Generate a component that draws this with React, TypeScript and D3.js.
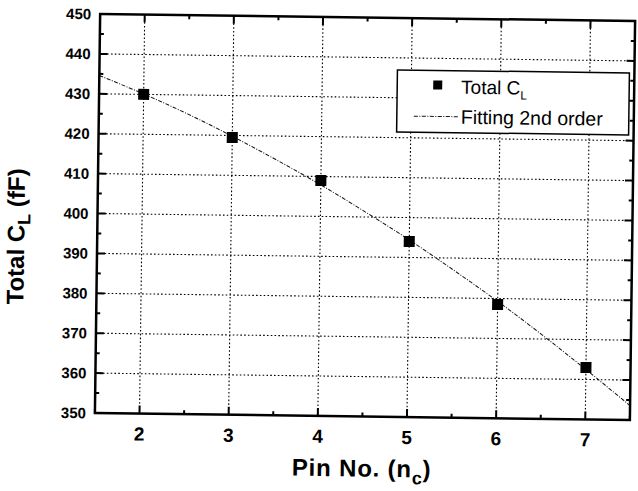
import React from "react";
import * as d3 from "d3";

// measured points
const pinNo = [2, 3, 4, 5, 6, 7];
const totalCL = [430, 419.5, 409, 394, 378.5, 363];

// 2nd order fit curve
const fitX = [1.5, 2, 2.5, 3, 3.5, 4, 4.5, 5, 5.5, 6, 6.5, 7, 7.5];
const fitY = [434.6, 430.1, 425.2, 419.8, 414.0, 407.9, 401.3, 394.4, 387.0, 379.3, 371.1, 362.5, 353.6];

const xTicks = [2, 3, 4, 5, 6, 7];
const yTicks = [350, 360, 370, 380, 390, 400, 410, 420, 430, 440, 450];

const width = 638;
const height = 491;
const margin = { left: 97.5, right: 5.5, top: 17.5, bottom: 74.5 };
const font = "'Liberation Sans', Arial, sans-serif";

const App = () => {
  const innerW = width - margin.left - margin.right;
  const innerH = height - margin.top - margin.bottom;

  const x = d3.scaleLinear().domain([1.5, 7.5]).range([0, innerW]);
  const y = d3.scaleLinear().domain([350, 450]).range([innerH, 0]);

  const xMinor = d3.range(1.5, 7.51, 0.5).filter((v) => !xTicks.includes(v));
  const yMinor = d3.range(355, 450, 10);

  const fitLine = d3
    .line<number>()
    .x((d, i) => x(fitX[i]))
    .y((d) => y(d))
    .curve(d3.curveNatural);

  const major = 8;
  const minor = 4;
  const cx = margin.left + innerW / 2;
  const cy = margin.top + innerH / 2;

  return (
    <svg
      width={width}
      height={height}
      style={{ position: "absolute", left: 0, top: 0, background: "#fff" }}
      fontFamily={font}
    >
      <g transform={`rotate(0.75 ${cx} ${cy})`}>
        <g transform={`translate(${margin.left},${margin.top})`}>
          {/* grid */}
          <g stroke="#000" strokeWidth={1.1} strokeDasharray="1.6,2.2">
            {xTicks.map((t) => (
              <line key={"gx" + t} x1={x(t)} x2={x(t)} y1={0} y2={innerH} />
            ))}
            {yTicks.slice(1, -1).map((t) => (
              <line key={"gy" + t} x1={0} x2={innerW} y1={y(t)} y2={y(t)} />
            ))}
          </g>

          {/* fit curve */}
          <path
            d={fitLine(fitY) || ""}
            fill="none"
            stroke="#111"
            strokeWidth={1}
            strokeDasharray="4,1.5,1,1.5"
          />

          {/* points */}
          {pinNo.map((p, i) => (
            <rect
              key={p}
              x={x(p) - 5.5}
              y={y(totalCL[i]) - 5.5}
              width={11}
              height={11}
              fill="#000"
            />
          ))}

          {/* ticks, inward on all four sides */}
          <g stroke="#000" strokeWidth={2}>
            {xTicks.map((t) => (
              <g key={"tx" + t}>
                <line x1={x(t)} x2={x(t)} y1={innerH} y2={innerH - major} />
                <line x1={x(t)} x2={x(t)} y1={0} y2={major} />
              </g>
            ))}
            {xMinor.map((t) => (
              <g key={"mx" + t}>
                <line x1={x(t)} x2={x(t)} y1={innerH} y2={innerH - minor} />
                <line x1={x(t)} x2={x(t)} y1={0} y2={minor} />
              </g>
            ))}
            {yTicks.map((t) => (
              <g key={"ty" + t}>
                <line x1={0} x2={major} y1={y(t)} y2={y(t)} />
                <line x1={innerW} x2={innerW - major} y1={y(t)} y2={y(t)} />
              </g>
            ))}
            {yMinor.map((t) => (
              <g key={"my" + t}>
                <line x1={0} x2={minor} y1={y(t)} y2={y(t)} />
                <line x1={innerW} x2={innerW - minor} y1={y(t)} y2={y(t)} />
              </g>
            ))}
          </g>

          {/* frame */}
          <rect x={0} y={0} width={innerW} height={innerH} fill="none" stroke="#000" strokeWidth={2.5} />

          {/* tick labels */}
          {yTicks.map((t) => (
            <text
              key={"ly" + t}
              x={-9}
              y={y(t)}
              dy="0.36em"
              textAnchor="end"
              fontSize={15}
              fontWeight="bold"
            >
              {t}
            </text>
          ))}
          {xTicks.map((t) => (
            <text
              key={"lx" + t}
              x={x(t)}
              y={innerH + 27}
              textAnchor="middle"
              fontSize={19}
              fontWeight="bold"
            >
              {t}
            </text>
          ))}

          {/* axis titles */}
          <text
            x={innerW / 2}
            y={innerH + 60}
            textAnchor="middle"
            fontSize={24}
            fontWeight="bold"
            letterSpacing={0.8}
          >
            Pin No. (n
            <tspan fontSize={18} dy={7}>c</tspan>
            <tspan dy={-7}>)</tspan>
          </text>
          <text
            transform={`translate(${-73},${innerH / 2 + 24}) rotate(-90)`}
            textAnchor="middle"
            fontSize={24}
            fontWeight="bold"
          >
            Total C
            <tspan fontSize={18} dy={6}>L</tspan>
            <tspan dy={-6}> (fF)</tspan>
          </text>

          {/* legend */}
          <g transform={`translate(${innerW - 237},${52})`}>
            <rect x={0} y={0} width={232} height={62} fill="#fff" stroke="#000" strokeWidth={1.5} />
            <rect x={36} y={10} width={9} height={9} fill="#000" />
            <text x={64} y={23} fontSize={19}>
              Total C
              <tspan fontSize={12} dy={5}>L</tspan>
            </text>
            <line x1={17} x2={61} y1={46} y2={46} stroke="#111" strokeWidth={1} strokeDasharray="4,1.5,1,1.5" />
            <text x={64} y={53} fontSize={19.5}>Fitting 2nd order</text>
          </g>
        </g>
      </g>
    </svg>
  );
};

export default App;
